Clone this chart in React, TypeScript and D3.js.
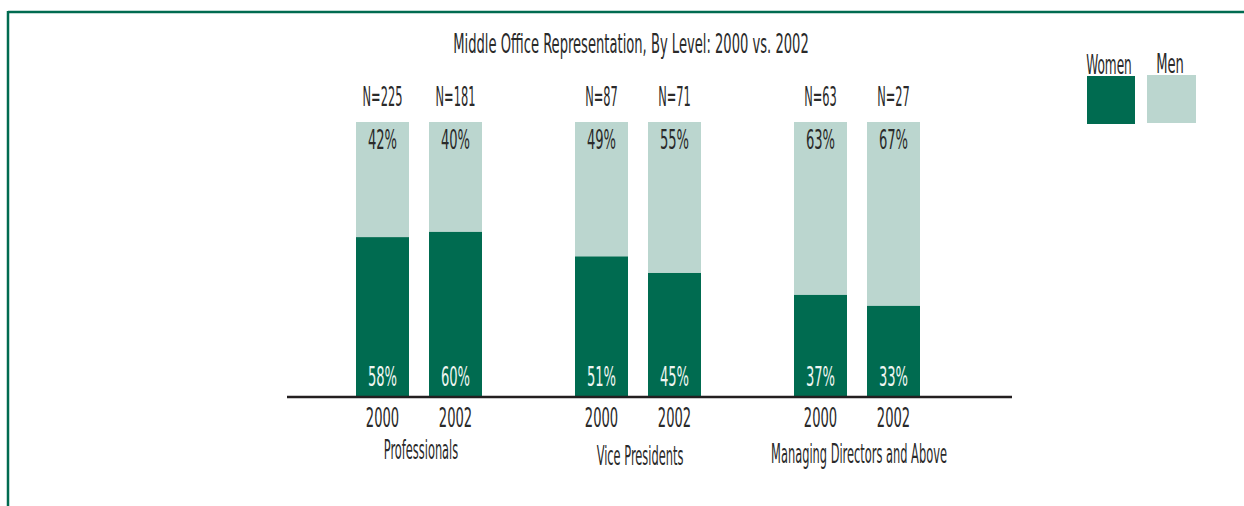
import React from 'react';
import * as d3 from 'd3';

const categories = ['Professionals', 'Vice Presidents', 'Managing Directors and Above'];
const years = ['2000', '2002'];
const women2000 = [58, 51, 37];
const women2002 = [60, 45, 33];
const men2000 = [42, 49, 63];
const men2002 = [40, 55, 67];
const n2000 = [225, 87, 63];
const n2002 = [181, 71, 27];

const W = 1244;
const H = 506;
const DARK = '#006b50';
const LIGHT = '#bbd6cf';
const INK = '#2a2a2a';
const FONT = '"DejaVu Sans Condensed", "Liberation Sans Narrow", sans-serif';

// condensed look: scale glyphs horizontally
const T = ({ x, y, children, fill = INK, size = 27, sx = 0.54, anchor = 'middle' }: any) => (
  <text
    transform={`translate(${x},${y}) scale(${sx},1)`}
    textAnchor={anchor}
    fontFamily={FONT}
    fontSize={size}
    fill={fill}
  >
    {children}
  </text>
);

const App = () => {
  const rows = categories.flatMap((c, i) => [
    { cat: c, year: years[0], women: women2000[i], men: men2000[i], n: n2000[i] },
    { cat: c, year: years[1], women: women2002[i], men: men2002[i], n: n2002[i] },
  ]);

  const x0 = d3.scaleBand().domain(categories).range([309.5, 966.5]).padding(0);
  const x1 = d3.scaleBand().domain(years).range([0, 126]).paddingInner(0.274).paddingOuter(0);
  const y = d3.scaleLinear().domain([0, 100]).range([396, 122]);

  const stack = d3.stack<any>().keys(['women', 'men']);
  const series = stack(rows);

  const barX = (d: any) => (x0(d.cat) as number) + x0.bandwidth() / 2 - 63 + (x1(d.year) as number);
  const bw = x1.bandwidth();
  const catLabelY = [459, 465, 463];

  return (
    <svg width={W} height={H} style={{ position: 'absolute', left: 0, top: 0, background: '#fff' }}>
      {/* frame */}
      <line x1={8} x2={W} y1={12} y2={12} stroke={DARK} strokeWidth={2.5} />
      <line x1={8} x2={8} y1={11} y2={H} stroke={DARK} strokeWidth={2.5} />

      <T x={631} y={53}>Middle Office Representation, By Level: 2000 vs. 2002</T>

      {series.map((s, si) => (
        <g key={s.key}>
          {s.map((d: any, i) => (
            <rect
              key={i}
              x={barX(d.data)}
              y={y(d[1])}
              width={bw}
              height={y(d[0]) - y(d[1])}
              fill={si === 0 ? DARK : LIGHT}
            />
          ))}
        </g>
      ))}

      {rows.map((d, i) => {
        const cx = barX(d) + bw / 2;
        return (
          <g key={i}>
            <T x={cx} y={106} sx={0.47}>{`N=${d.n}`}</T>
            <T x={cx} y={149}>{`${d.men}%`}</T>
            <T x={cx} y={386} fill="#eef5f1">{`${d.women}%`}</T>
            <T x={cx} y={427}>{d.year}</T>
          </g>
        );
      })}

      <line x1={287} x2={1012} y1={397} y2={397} stroke="#231f20" strokeWidth={2.5} />

      {categories.map((c, i) => (
        <T key={c} x={(x0(c) as number) + x0.bandwidth() / 2 + 2} y={catLabelY[i]} sx={0.47}>
          {c}
        </T>
      ))}

      {/* legend */}
      <rect x={1087} y={76} width={48} height={48} fill={DARK} />
      <rect x={1147} y={75} width={49} height={48} fill={LIGHT} />
      <T x={1109} y={74} sx={0.5}>Women</T>
      <T x={1170} y={73}>Men</T>
    </svg>
  );
};

export default App;
